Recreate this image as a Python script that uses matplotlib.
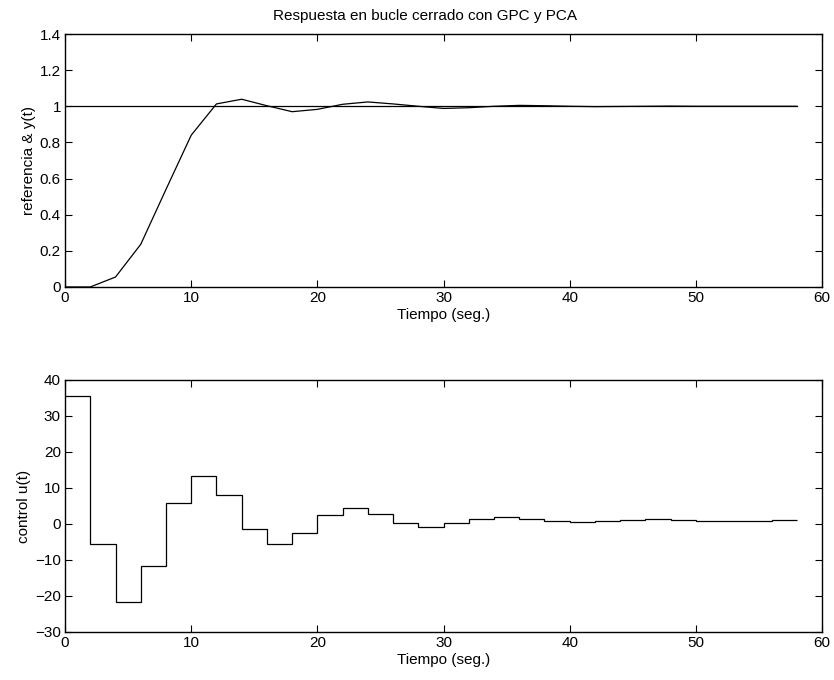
import matplotlib
matplotlib.use("Agg")
import matplotlib.pyplot as plt
from matplotlib.ticker import FuncFormatter

plt.rcParams['font.family'] = ['Liberation Sans', 'DejaVu Sans']
plt.rcParams['font.size'] = 11

# salida y(t), muestreo cada 2 s
t_out = [0, 2, 4, 6, 8, 10, 12, 14, 16, 18, 20, 22, 24, 26, 28, 30,
         32, 34, 36, 38, 40, 42, 44, 46, 48, 50, 52, 54, 56, 58]
y_out = [0.0, 0.0, 0.055, 0.236, 0.54, 0.84, 1.013, 1.039, 1.003, 0.970,
         0.983, 1.011, 1.024, 1.013, 1.0, 0.988, 0.992, 1.0, 1.005, 1.003,
         1.0, 0.998, 0.999, 1.0, 1.001, 1.0, 1.0, 1.0, 1.0, 1.0]
ref = [1.0] * len(t_out)

# control u(t), escalones de 2 s
t_edges = [0, 2, 4, 6, 8, 10, 12, 14, 16, 18, 20, 22, 24, 26, 28, 30,
           32, 34, 36, 38, 40, 42, 44, 46, 48, 50, 52, 54, 56, 58]
u_vals = [35.6, -5.65, -21.8, -11.8, 5.7, 13.4, 8.0, -1.5, -5.5, -2.4,
          2.5, 4.4, 2.9, 0.2, -0.85, 0.3, 1.5, 2.0, 1.4, 0.75,
          0.45, 0.85, 1.1, 1.25, 1.1, 0.93, 0.8, 0.93, 1.02]

fig = plt.figure(figsize=(8.34, 6.8), dpi=100)
ax1 = fig.add_axes([0.078, 0.578, 0.9077, 0.372])
ax2 = fig.add_axes([0.078, 0.0706, 0.9077, 0.3706])

fmt = FuncFormatter(lambda v, p: '%g' % v)

ax1.plot(t_out, ref, color='black', lw=0.9)
ax1.plot(t_out, y_out, color='black', lw=0.9)
ax1.set_xlim(0, 60)
ax1.set_ylim(0, 1.4)
ax1.set_yticks([0, 0.2, 0.4, 0.6, 0.8, 1.0, 1.2, 1.4])
ax1.yaxis.set_major_formatter(fmt)
ax1.set_title("Respuesta en bucle cerrado con GPC y PCA", fontsize=11,
              x=0.475, pad=10)
ax1.set_xlabel("Tiempo (seg.)", labelpad=2)
ax1.set_ylabel("referencia & y(t)", labelpad=3)

ax2.stairs(u_vals, t_edges, baseline=None, color='black', lw=0.9)
ax2.set_xlim(0, 60)
ax2.set_ylim(-30, 40)
ax2.set_yticks([-30, -20, -10, 0, 10, 20, 30, 40])
ax2.set_xlabel("Tiempo (seg.)", labelpad=2)
ax2.set_ylabel("control u(t)", labelpad=3)

for ax in (ax1, ax2):
    ax.set_xticks([0, 10, 20, 30, 40, 50, 60])
    ax.tick_params(direction='in', length=5, width=0.8, top=True, right=True,
                   labelsize=11, pad=3)
    for s in ax.spines.values():
        s.set_linewidth(1.0)

fig.savefig("out.png", dpi=100)
